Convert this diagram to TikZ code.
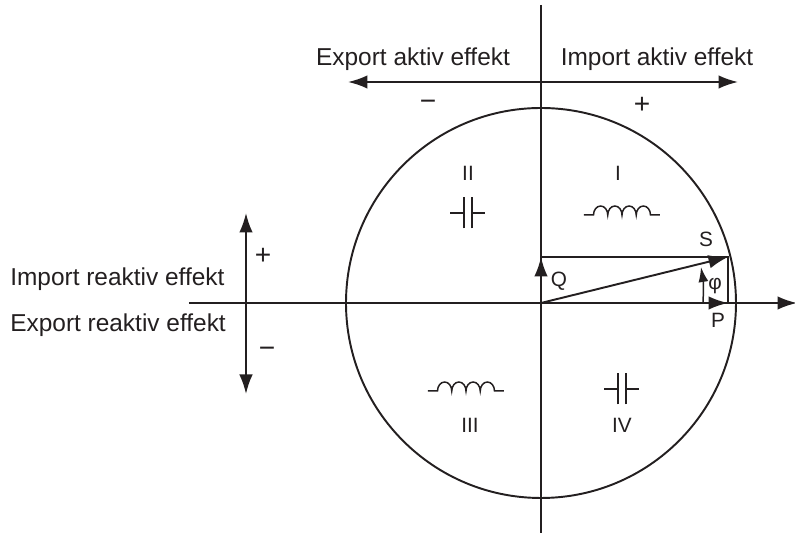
\documentclass[tikz,border=0pt]{standalone}
\usepackage{fontspec}
\setmainfont{Liberation Sans}
\usepackage{xcolor}
\usetikzlibrary{arrows.meta}
\definecolor{inkcol}{HTML}{231F20}

\begin{document}
\begin{tikzpicture}[>={Latex[length=.39cm,width=.27cm]},color=inkcol,
  axis line/.style={line width=1.1pt},
  thin line/.style={line width=.85pt},
  small arrow/.style={thin line,-{Latex[length=.3cm,width=.2cm]}},
  label text/.style={font=\fontsize{13.9}{16}\selectfont,inner sep=0pt},
  small text/.style={font=\fontsize{11.8}{14}\selectfont,inner sep=0pt},
  sign text/.style={font=\fontsize{16}{18}\selectfont,inner sep=0pt},
  coil/.pic={
    \draw[thin line] (-.76,0) -- (-.57,0)
      arc[start angle=180,end angle=0,x radius=.1425,y radius=.18]
      arc[start angle=180,end angle=0,x radius=.1425,y radius=.18]
      arc[start angle=180,end angle=0,x radius=.1425,y radius=.18]
      arc[start angle=180,end angle=0,x radius=.1425,y radius=.18]
      -- (.76,0);
  },
  capacitor/.pic={
    \draw[thin line] (-.35,0) -- (-.08,0) (.08,0) -- (.35,0);
    \draw[thin line] (-.08,-.31) -- (-.08,.31) (.08,-.31) -- (.08,.31);
  }]
  \useasboundingbox (-10.82,-4.6) rectangle (5.08,6.06);

  \coordinate (o) at (0,0);
  \coordinate (axistop) at (0,5.96);
  \coordinate (axisbottom) at (0,-4.6);
  \coordinate (axisleft) at (-7.04,0);
  \coordinate (axisright) at (5.12,0);
  \coordinate (q) at (0,.92);
  \coordinate (p) at (3.74,0);
  \coordinate (s) at (3.74,.92);
  \coordinate (phistart) at (3.24,0);
  \coordinate (phiend) at (3.2,.72);
  \coordinate (activeleft) at (-3.86,4.42);
  \coordinate (activeright) at (3.94,4.42);
  \coordinate (reactivetop) at (-5.9,1.8);
  \coordinate (reactivebottom) at (-5.9,-1.82);

  \draw[axis line] (o) circle (3.9);
  \draw[axis line] (axistop) -- (axisbottom);
  \draw[axis line,->] (axisleft) -- (axisright);
  \draw[axis line,<->] (activeleft) -- (activeright);
  \draw[axis line,<->] (reactivebottom) -- (reactivetop);

  \draw[axis line,->] (o) -- (q);
  \draw[axis line,->] (o) -- (p);
  \draw[axis line,->] (o) -- (s);
  \draw[axis line] (q) -- (s) -- (p);
  \draw[small arrow] (phistart) to[bend right=6] (phiend);

  \node[label text] (exportactive) at (-2.56,4.88) {Export aktiv effekt};
  \node[label text] (importactive) at (2.32,4.88) {Import aktiv effekt};
  \node[sign text] (minusactive) at (-2.26,3.96) {−};
  \node[sign text] (plusactive) at (2.02,3.96) {+};
  \node[label text,anchor=west] (importreactive) at (-10.62,.48) {Import reaktiv effekt};
  \node[label text,anchor=west] (exportreactive) at (-10.62,-.44) {Export reaktiv effekt};
  \node[sign text] (plusreactive) at (-5.56,.94) {+};
  \node[sign text] (minusreactive) at (-5.48,-.98) {−};

  \node[small text] (quadI) at (1.54,2.6) {I};
  \node[small text] (quadII) at (-1.46,2.6) {II};
  \node[small text] (quadIII) at (-1.42,-2.44) {III};
  \node[small text] (quadIV) at (1.62,-2.44) {IV};
  \pic at (1.62,1.76) {coil};
  \pic at (-1.46,1.8) {capacitor};
  \pic at (-1.5,-1.76) {coil};
  \pic at (1.62,-1.72) {capacitor};

  \node[small text] (labelS) at (3.3,1.28) {S};
  \node[small text] (labelQ) at (.36,.44) {Q};
  \node[small text] (labelphi) at (3.48,.34) {φ};
  \node[small text] (labelP) at (3.54,-.34) {P};
\end{tikzpicture}
\end{document}
